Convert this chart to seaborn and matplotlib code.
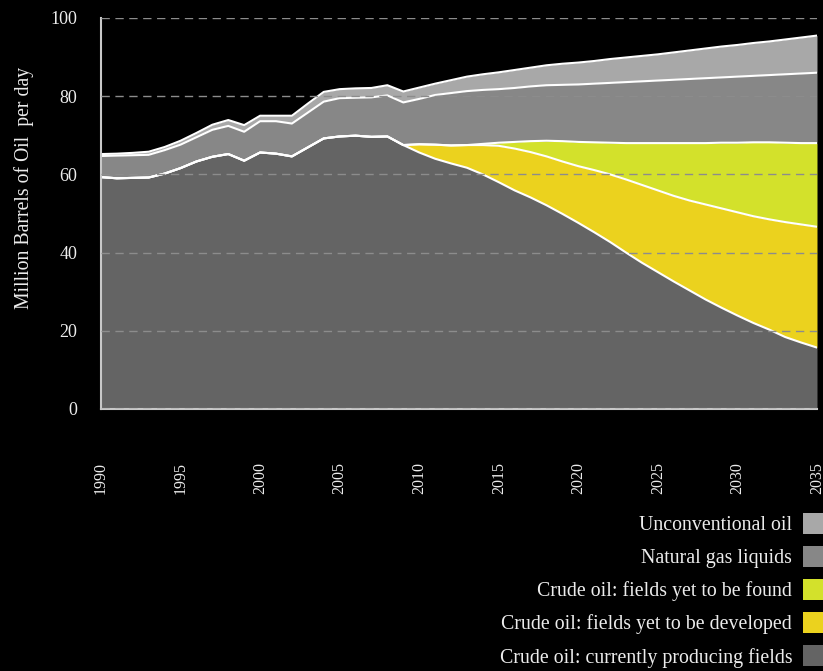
import numpy as np
import pandas as pd
import seaborn as sns
import matplotlib.pyplot as plt
from matplotlib.patches import Patch

# values (million barrels per day)
years = list(range(1990, 2036))

producing = [59.3, 59.0, 59.1, 59.2, 60.2, 61.6, 63.3, 64.5, 65.2, 63.5,
             65.6, 65.3, 64.6, 66.9, 69.2, 69.7, 69.9, 69.6, 69.7, 67.5,
             65.6, 64.0, 62.8, 61.7, 60.0, 58.0, 55.9, 54.1, 52.1, 49.9,
             47.6, 45.2, 42.7, 40.0, 37.4, 35.0, 32.6, 30.3, 28.0, 25.9,
             23.9, 22.0, 20.3, 18.4, 17.0, 15.7]
developed = [0, 0, 0, 0, 0, 0, 0, 0, 0, 0,
             0, 0, 0, 0, 0, 0, 0, 0, 0, 0.0,
             2.1, 3.6, 4.6, 5.8, 7.5, 9.3, 10.7, 11.6, 12.5, 13.4,
             14.5, 15.9, 17.3, 18.7, 19.9, 20.9, 21.9, 23.0, 24.3, 25.4,
             26.4, 27.3, 28.2, 29.4, 30.2, 30.9]
found = [0, 0, 0, 0, 0, 0, 0, 0, 0, 0,
         0, 0, 0, 0, 0, 0, 0, 0, 0, 0,
         0, 0, 0, 0, 0.3, 0.8, 1.7, 2.8, 4.0, 5.2,
         6.2, 7.1, 8.1, 9.3, 10.7, 12.1, 13.5, 14.7, 15.7, 16.8,
         17.8, 18.9, 19.7, 20.3, 20.8, 21.4]
ngl = [5.4, 5.8, 5.8, 5.8, 6.0, 6.0, 6.2, 6.9, 7.2, 7.4,
       8.0, 8.3, 8.4, 8.9, 9.4, 9.8, 9.7, 10.1, 10.5, 10.9,
       11.6, 12.7, 13.4, 13.8, 13.8, 13.7, 13.8, 14.0, 14.2, 14.4,
       14.7, 15.0, 15.3, 15.6, 15.8, 16.0, 16.2, 16.4, 16.6, 16.7,
       16.9, 17.0, 17.2, 17.5, 17.8, 18.0]
unconventional = [0.5, 0.5, 0.6, 0.8, 0.8, 1.0, 1.1, 1.3, 1.5, 1.7,
                  1.4, 1.4, 2.0, 2.3, 2.5, 2.3, 2.4, 2.4, 2.6, 2.8,
                  2.9, 2.9, 3.3, 3.7, 4.0, 4.3, 4.6, 4.8, 5.1, 5.4,
                  5.6, 5.8, 6.1, 6.3, 6.5, 6.7, 7.0, 7.3, 7.6, 7.9,
                  8.1, 8.4, 8.6, 8.9, 9.2, 9.5]

labels = ["Crude oil: currently producing fields",
          "Crude oil: fields yet to be developed",
          "Crude oil: fields yet to be found",
          "Natural gas liquids",
          "Unconventional oil"]
colors = ["#646464", "#ebd21e", "#d3e12b", "#878787", "#a8a8a8"]

sns.set_style("dark", {"axes.facecolor": "black", "figure.facecolor": "black"})
plt.rcParams["font.family"] = ["Liberation Serif", "DejaVu Serif"]
text_col = "#ececec"

fig = plt.figure(figsize=(8.23, 6.71), dpi=100, facecolor="black")
ax = fig.add_axes([0.1227, 0.3905, 0.870, 0.5827])

layers = [producing, developed, found, ngl, unconventional]
ax.stackplot(years, *layers, colors=colors, linewidth=0)

# white boundary lines on top of every layer
tops = np.cumsum(np.array(layers), axis=0)
df = pd.DataFrame({
    "year": np.tile(years, len(labels)),
    "top": tops.ravel(),
    "series": np.repeat(labels, len(years)),
})
sns.lineplot(data=df, x="year", y="top", units="series", estimator=None,
             color="white", linewidth=1.5, ax=ax, legend=False)

ax.set_xlim(1990, 2035)
ax.set_ylim(0, 100)
ax.set_xticks(range(1990, 2036, 5))
ax.set_yticks(range(0, 101, 20))
ax.tick_params(axis="x", labelrotation=90, pad=38, length=0, labelsize=11.5, colors=text_col)
ax.tick_params(axis="y", pad=17, length=0, labelsize=13, colors=text_col)
ax.set_xlabel("")
ax.set_ylabel("Million Barrels of Oil  per day", color=text_col, fontsize=14.2)
ax.yaxis.set_label_coords(-0.094, 0.565)

ax.set_axisbelow(False)
ax.yaxis.grid(True, color="#8c8c8c", linestyle=(0, (6, 4)), linewidth=1)
ax.xaxis.grid(False)
for side in ["top", "right"]:
    ax.spines[side].set_visible(False)
for side in ["left", "bottom"]:
    ax.spines[side].set_color("#c8c8c8")
    ax.spines[side].set_linewidth(1.5)

handles = [Patch(facecolor=c, edgecolor="none") for c in colors]
fig.legend(handles[::-1], labels[::-1], loc="upper right",
           bbox_to_anchor=(1.0, 1 - 513 / 671), markerfirst=False,
           frameon=False, fontsize=14.3, labelcolor=text_col,
           handlelength=1.0, handleheight=1.25, handletextpad=0.55,
           labelspacing=0.55, borderpad=0, borderaxespad=0)

fig.savefig("out.png", dpi=100, facecolor="black")
